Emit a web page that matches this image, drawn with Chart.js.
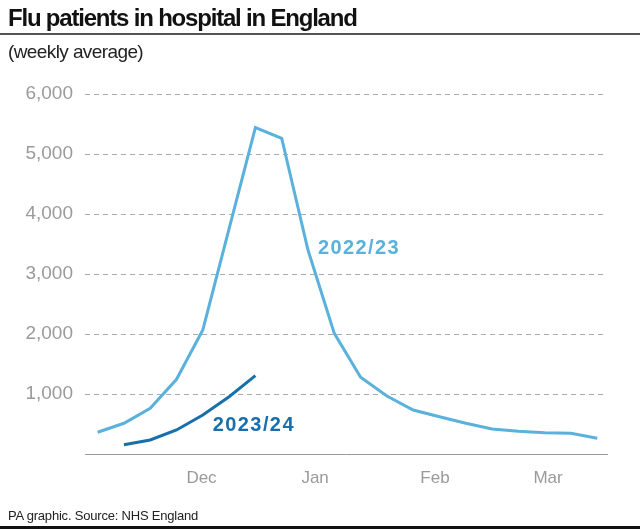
<!DOCTYPE html>
<html>
<head>
<meta charset="utf-8">
<script src="https://cdn.jsdelivr.net/npm/chart.js@4"></script>
<style>
    body {margin: 0; width: 640px; height: 529px; position: relative; background: #fff; overflow: hidden;
          font-family: 'Liberation Sans', Arial, sans-serif;}
    #grafico {position: absolute; left: 0; top: 0;}
    #titulo {position: absolute; left: 8px; top: 4px; font-size: 24px; font-weight: bold; color: #111; letter-spacing: -1.2px;}
    #linha {position: absolute; left: 0; top: 33px; width: 640px; height: 2px; background: #555;}
    #sub {position: absolute; left: 8px; top: 41px; font-size: 19px; color: #222; letter-spacing: -0.6px;}
    #fonte {position: absolute; left: 8px; top: 508px; font-size: 13px; color: #222; letter-spacing: -0.2px;}
    #rodape {position: absolute; left: 0; top: 526px; width: 640px; height: 3px; background: #111;}
</style>
</head>
<body>
<canvas id="grafico" width="640" height="529"></canvas>
<div id="titulo">Flu patients in hospital in England</div>
<div id="linha"></div>
<div id="sub">(weekly average)</div>
<div id="fonte">PA graphic. Source: NHS England</div>
<div id="rodape"></div>

<script>
// semanas (indice da semana desde o inicio de novembro)
const semanas2022 = [0, 1, 2, 3, 4, 5, 6, 7, 8, 9, 10, 11, 12, 13, 14, 15, 16, 17, 18, 19];
const valores2022 = [362, 512, 762, 1245, 2067, 3755, 5440, 5262, 3400, 2011, 1278, 967, 733, 622, 512, 417, 378, 355, 345, 262];

const semanas2023 = [1, 2, 3, 4, 5, 6];
const valores2023 = [155, 233, 400, 650, 955, 1305];

// posicao dos meses no eixo (em semanas)
const posMeses = [3.95, 8.27, 12.83, 17.13];
const nomesMeses = ['Dec', 'Jan', 'Feb', 'Mar'];

const corClara = '#5ab1db';
const corEscura = '#176fab';

// rotulos das series (ancorados em valores do grafico)
const rotulos = [
    {texto: '2022/23', x: 8.38, y: 3433, cor: corClara},
    {texto: '2023/24', x: 4.38, y: 483, cor: corEscura}
];

const pluginRotulos = {
    id: 'rotulos',
    afterDatasetsDraw(chart) {
        const ctx = chart.ctx;
        ctx.save();
        ctx.font = 'bold 20px "Liberation Sans", Arial, sans-serif';
        ctx.letterSpacing = '1.4px';
        ctx.textBaseline = 'middle';
        ctx.textAlign = 'left';
        rotulos.forEach(r => {
            ctx.fillStyle = r.cor;
            ctx.fillText(r.texto, chart.scales.x.getPixelForValue(r.x), chart.scales.y.getPixelForValue(r.y));
        });
        ctx.restore();
    }
};

function montarGrafico() {
    const graf = document.getElementById('grafico').getContext('2d');

    const meuGrafico = new Chart(graf, {
        type: 'line',
        data: {
            datasets: [
                {
                    label: '2022/23',
                    data: semanas2022.map((s, i) => ({x: s, y: valores2022[i]})),
                    borderColor: corClara,
                    borderWidth: 3,
                    pointRadius: 0,
                    tension: 0
                },
                {
                    label: '2023/24',
                    data: semanas2023.map((s, i) => ({x: s, y: valores2023[i]})),
                    borderColor: corEscura,
                    borderWidth: 3,
                    pointRadius: 0,
                    tension: 0
                }
            ]
        },
        options: {
            responsive: false,
            animation: false,
            layout: {padding: {top: 94, right: 33, left: 0, bottom: 35}},
            plugins: {
                legend: {display: false},
                tooltip: {enabled: false}
            },
            scales: {
                x: {
                    type: 'linear',
                    min: -0.48,
                    max: 19.37,
                    afterBuildTicks: s => { s.ticks = posMeses.map(v => ({value: v})); },
                    afterFit: s => { s.height = 40; },
                    grid: {display: false, drawTicks: false},
                    border: {display: true, color: '#9a9a9a', width: 1},
                    ticks: {
                        autoSkip: false,
                        maxRotation: 0,
                        padding: 14,
                        color: '#9a9a9a',
                        font: {family: '"Liberation Sans", Arial, sans-serif', size: 17},
                        callback: (v, i) => nomesMeses[i]
                    }
                },
                y: {
                    min: 0,
                    max: 6000,
                    afterFit: s => { s.width = 85; },
                    grid: {
                        drawTicks: false,
                        color: c => c.tick.value === 0 ? 'rgba(0,0,0,0)' : '#ababab',
                        lineWidth: 1
                    },
                    border: {display: false, dash: [5, 4]},
                    ticks: {
                        stepSize: 1000,
                        padding: 12,
                        color: '#9a9a9a',
                        font: {family: '"Liberation Sans", Arial, sans-serif', size: 19},
                        callback: v => v === 0 ? '' : v.toLocaleString('en-GB')
                    }
                }
            }
        },
        plugins: [pluginRotulos]
    });
}

montarGrafico();
</script>
</body>
</html>
